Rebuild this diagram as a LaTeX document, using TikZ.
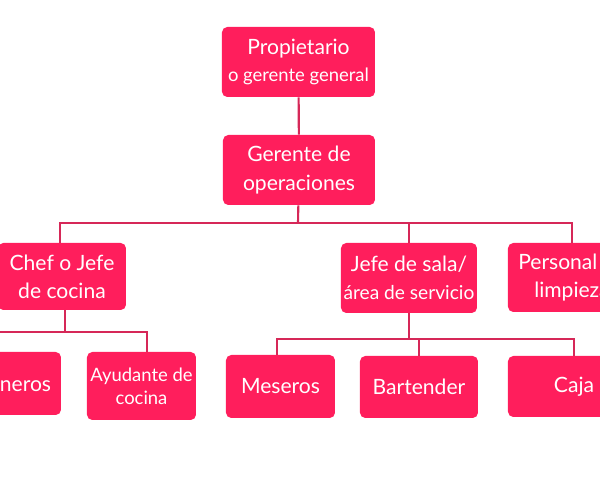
\documentclass[tikz,border=0pt]{standalone}
\usepackage{fontspec}
\setmainfont{Lato}
\definecolor{rosa}{RGB}{255,30,92}
\definecolor{linearosa}{RGB}{214,40,88}
\tikzset{%
  puesto/.style 2 args={fill=rosa,rounded corners=3pt,text=white,align=center,
    inner sep=0pt,minimum width=#1*0.02cm,minimum height=#2*0.02cm,
    font=\fontsize{12}{16}\selectfont},
  chico/.style={font=\fontsize{10.5}{13}\selectfont},
  linea/.style={draw=linearosa,line width=1.2pt}
}
\begin{document}
\begin{tikzpicture}[x=0.02cm,y=-0.02cm]
  \useasboundingbox (0,0) rectangle (600,480);
  \clip (0,0) rectangle (600,480);

  % direccion
  \node[puesto={153}{70}] (prop) at (298.5,62) {Propietario\\[-1pt]{\fontsize{10.5}{13}\selectfont o gerente general}};
  \node[puesto={152}{70}] (ops) at (299,170) {Gerente de\\operaciones};

  % jefes
  \node[puesto={128}{67}] (chef) at (62,276.5) {Chef o Jefe\\de cocina};
  \node[puesto={136}{70}] (sala) at (409,278) {Jefe de sala/\\{\fontsize{10.9}{16}\selectfont área de servicio}};
  \node[puesto={128}{69}] (limp) at (572,277.5) {Personal de\\limpieza};

  % personal
  \node[puesto={112}{63}] (coc) at (5,383.5) {Cocineros};
  \node[puesto={109}{68},chico] (ayud) at (141.5,386) {Ayudante de\\cocina};
  \node[puesto={109}{63}] (mes) at (280.5,386.5) {Meseros};
  \node[puesto={118}{62}] (bar) at (419,387) {Bartender};
  \node[puesto={132}{61}] (caja) at (574,386.5) {Caja};

  % conectores
  \draw[linea] (prop) -- (ops);
  \coordinate (busA) at (298,223);
  \draw[linea] (ops) -- (busA);
  \draw[linea] ([xshift=-0.04cm]chef.north) |- (busA) -| (limp.north);
  \draw[linea] (sala.north) -- (sala.north |- busA);

  \coordinate (busC) at (65,332);
  \draw[linea] (chef.south -| busC) -- (busC);
  \draw[linea] ([xshift=-0.24cm]coc.north) |- (busC) -| ([xshift=0.11cm]ayud.north);

  \coordinate (busS) at (409,339);
  \draw[linea] (sala) -- (busS);
  \draw[linea] ([xshift=-0.07cm]mes.north) |- (busS) -| (caja.north);
  \draw[linea] (bar.north) -- (bar.north |- busS);
\end{tikzpicture}
\end{document}
